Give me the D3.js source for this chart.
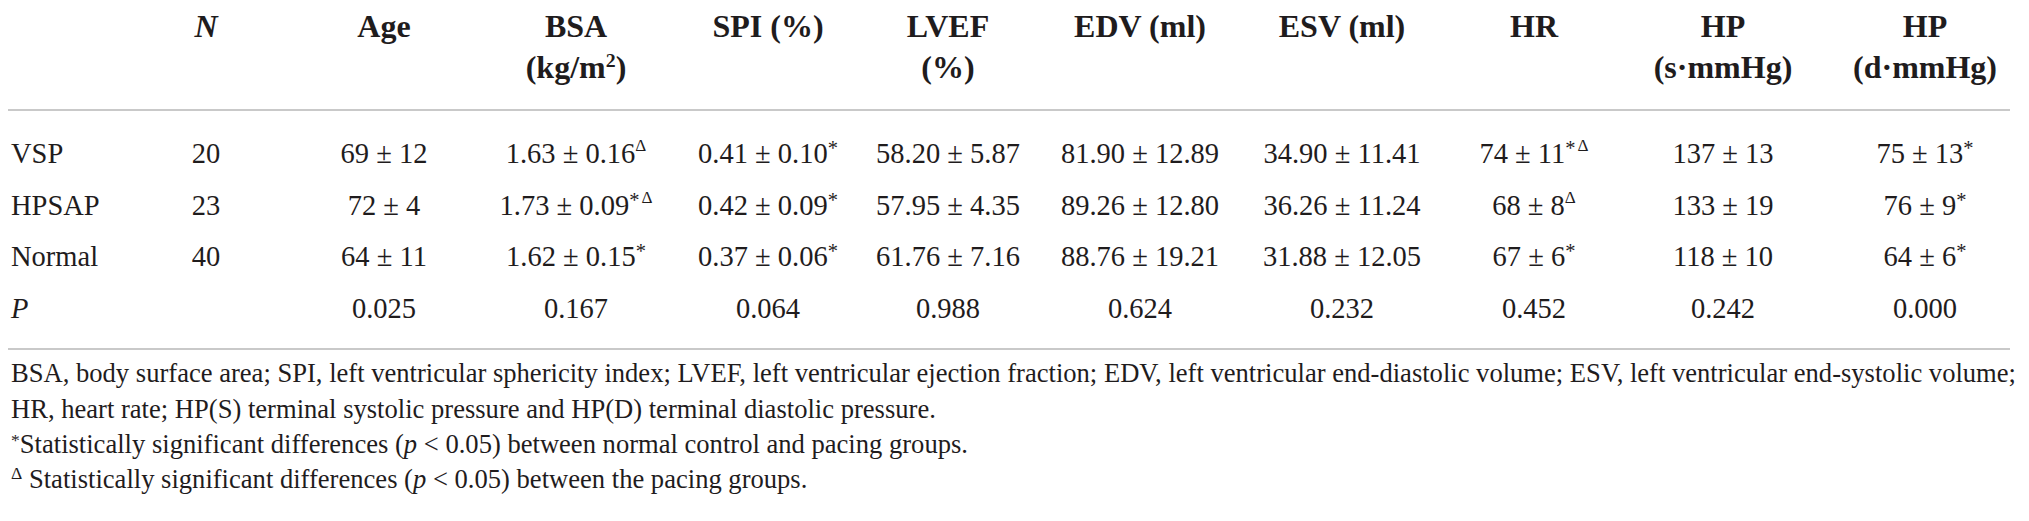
<!DOCTYPE html>
<html>
<head>
<meta charset="utf-8">
<script src="https://cdn.jsdelivr.net/npm/d3@7"></script>
<style>
  html, body { margin: 0; padding: 0; background: #fff; }
  svg { display: block; }
  text { font-family: "Liberation Serif", "DejaVu Serif", serif; fill: #1f1c1d; }
</style>
</head>
<body>
<svg id="chart" width="2029" height="521"></svg>
<script>
// ---- data ----
const columns = ["N", "Age", "BSA", "SPI", "LVEF", "EDV", "ESV", "HR", "HPs", "HPd"];
const headerLine1 = ["N", "Age", "BSA", "SPI (%)", "LVEF", "EDV (ml)", "ESV (ml)", "HR", "HP", "HP"];
const headerLine2 = ["", "", "(kg/m|2|)", "", "(%)", "", "", "", "(s·mmHg)", "(d·mmHg)"];
const groups = ["VSP", "HPSAP", "Normal"];
const rowLabels = ["VSP", "HPSAP", "Normal", "P"];

const nValues = [20, 23, 40];
const ageMean = [69, 72, 64],            ageSD = [12, 4, 11];
const bsaMean = [1.63, 1.73, 1.62],      bsaSD = [0.16, 0.09, 0.15];
const spiMean = [0.41, 0.42, 0.37],      spiSD = [0.10, 0.09, 0.06];
const lvefMean = [58.20, 57.95, 61.76],  lvefSD = [5.87, 4.35, 7.16];
const edvMean = [81.90, 89.26, 88.76],   edvSD = [12.89, 12.80, 19.21];
const esvMean = [34.90, 36.26, 31.88],   esvSD = [11.41, 11.24, 12.05];
const hrMean = [74, 68, 67],             hrSD = [11, 8, 6];
const hpsMean = [137, 133, 118],         hpsSD = [13, 19, 10];
const hpdMean = [75, 76, 64],            hpdSD = [13, 9, 6];

const bsaMarks = ["Δ", "*Δ", "*"];
const spiMarks = ["*", "*", "*"];
const hrMarks = ["*Δ", "Δ", "*"];
const hpdMarks = ["*", "*", "*"];

const pValues = [0.025, 0.167, 0.064, 0.988, 0.624, 0.232, 0.452, 0.242, 0.000];

const footnotes = [
  "BSA, body surface area; SPI, left ventricular sphericity index; LVEF, left ventricular ejection fraction; EDV, left ventricular end-diastolic volume; ESV, left ventricular end-systolic volume;",
  "HR, heart rate; HP(S) terminal systolic pressure and HP(D) terminal diastolic pressure.",
  "|*|Statistically significant differences (_p_ < 0.05) between normal control and pacing groups.",
  "|Δ| Statistically significant differences (_p_ < 0.05) between the pacing groups."
];

// ---- build table ----
const none = ["", "", ""];
const series = [
  { col: "Age",  mean: ageMean,  sd: ageSD,  dec: 0, marks: none },
  { col: "BSA",  mean: bsaMean,  sd: bsaSD,  dec: 2, marks: bsaMarks },
  { col: "SPI",  mean: spiMean,  sd: spiSD,  dec: 2, marks: spiMarks },
  { col: "LVEF", mean: lvefMean, sd: lvefSD, dec: 2, marks: none },
  { col: "EDV",  mean: edvMean,  sd: edvSD,  dec: 2, marks: none },
  { col: "ESV",  mean: esvMean,  sd: esvSD,  dec: 2, marks: none },
  { col: "HR",   mean: hrMean,   sd: hrSD,   dec: 0, marks: hrMarks },
  { col: "HPs",  mean: hpsMean,  sd: hpsSD,  dec: 0, marks: none },
  { col: "HPd",  mean: hpdMean,  sd: hpdSD,  dec: 0, marks: hpdMarks }
];

const svg = d3.select("#chart");

const x = d3.scaleOrdinal()
  .domain(columns)
  .range([206, 384, 576, 768, 948, 1140, 1342, 1534, 1723, 1925]);
const y = d3.scalePoint()
  .domain(rowLabels)
  .range([163, 318]);

const bodySize = 28.5, headSize = 32;

// rules
svg.append("line").attr("x1", 8).attr("x2", 2010).attr("y1", 110).attr("y2", 110)
  .attr("stroke", "#c9c9c9").attr("stroke-width", 2);
svg.append("line").attr("x1", 8).attr("x2", 2010).attr("y1", 349).attr("y2", 349)
  .attr("stroke", "#c9c9c9").attr("stroke-width", 2);

// header
const head = svg.append("g").attr("font-weight", "bold").attr("font-size", headSize);
columns.forEach((c, i) => {
  const t1 = head.append("text").attr("x", x(c)).attr("y", 37).attr("text-anchor", "middle")
    .text(headerLine1[i]);
  if (c === "N") t1.attr("font-style", "italic");
  if (headerLine2[i]) {
    const parts = headerLine2[i].split("|");
    const t2 = head.append("text").attr("x", x(c)).attr("y", 78).attr("text-anchor", "middle");
    parts.forEach((p, k) => {
      if (k % 2 === 1) {
        t2.append("tspan").attr("font-size", headSize * 0.62).attr("dy", -11).text(p);
      } else {
        const ts = t2.append("tspan").text(p);
        if (k > 0) ts.attr("dy", 11);
      }
    });
  }
});

// row labels
const body = svg.append("g").attr("font-size", bodySize);
rowLabels.forEach(r => {
  const t = body.append("text").attr("x", 11).attr("y", y(r)).text(r);
  if (r === "P") t.attr("font-style", "italic");
});

// N column
groups.forEach((g, i) => {
  body.append("text").attr("x", x("N")).attr("y", y(g)).attr("text-anchor", "middle")
    .text(nValues[i]);
});

// value cells
function addMarks(t, m) {
  if (!m) return;
  let first = true;
  for (const ch of m) {
    const ts = t.append("tspan").text(ch);
    if (ch === "*") ts.attr("font-size", bodySize * 0.72);
    else ts.attr("font-size", bodySize * 0.6);
    if (first) { ts.attr("dy", ch === "*" ? -8 : -12); first = false; }
    else ts.attr("dy", ch === "Δ" ? -4 : 0).attr("dx", 2);
  }
}
series.forEach(s => {
  const f = d3.format("." + s.dec + "f");
  groups.forEach((g, i) => {
    const t = body.append("text").attr("x", x(s.col)).attr("y", y(g)).attr("text-anchor", "middle");
    t.append("tspan").text(f(s.mean[i]) + " ± " + f(s.sd[i]));
    addMarks(t, s.marks[i]);
  });
});

// P row
const pf = d3.format(".3f");
series.forEach((s, i) => {
  body.append("text").attr("x", x(s.col)).attr("y", y("P")).attr("text-anchor", "middle")
    .text(pf(pValues[i]));
});

// footnotes
const fy = [382, 418, 453, 488];
const foot = svg.append("g");
const fnodes = footnotes.map((line, i) => {
  const t = foot.append("text").attr("x", 11).attr("y", fy[i]).attr("font-size", 24);
  line.split("|").forEach((seg, k) => {
    if (k % 2 === 1) {
      t.append("tspan").attr("font-size", 16).attr("dy", seg === "*" ? -7 : -9).text(seg);
    } else {
      const subs = seg.split("_");
      subs.forEach((ss, j) => {
        const ts = t.append("tspan").text(ss);
        if (j === 0 && k > 0) ts.attr("dy", line.split("|")[k - 1] === "*" ? 7 : 9);
        if (j % 2 === 1) ts.attr("font-style", "italic");
      });
    }
  });
  return t;
});
// fit footnote font size so the first line spans the same width as the table
const w0 = fnodes[0].node().getComputedTextLength();
const fs = 24 * (2006 / w0);
fnodes.forEach(t => {
  t.attr("font-size", fs);
  t.selectAll("tspan").each(function () {
    const el = d3.select(this);
    if (el.attr("font-size")) el.attr("font-size", fs * 0.66);
  });
});
</script>
</body>
</html>
